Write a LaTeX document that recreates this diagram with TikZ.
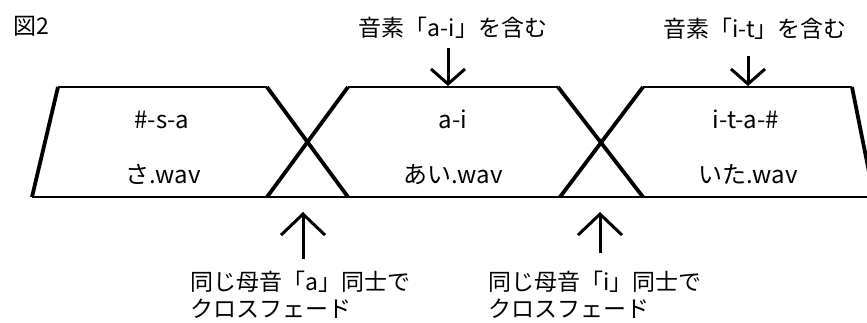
\documentclass[tikz,border=0pt]{standalone}
\usepackage{fontspec}
\setmainfont{Noto Sans CJK JP}
\usetikzlibrary{arrows.meta}
\begin{document}
\begin{tikzpicture}[x=1pt,y=-1pt,
  edge/.style={line width=2.8pt},
  slant/.style={line width=3.8pt},
  lbl/.style={font=\fontsize{23}{27}\selectfont, inner sep=0pt},
  boxlbl/.style={font=\fontsize{24}{28}\selectfont, inner sep=0pt},
  downptr/.style={line width=3pt, -{Straight Barb[length=15pt,width=34pt]}},
  upptr/.style={line width=3pt, -{Straight Barb[length=21pt,width=44pt]}}
]
\useasboundingbox (0,0) rectangle (867,322);
\clip (0,0) rectangle (867,322);
% box corners
\coordinate (b1tl) at (58,87);  \coordinate (b1tr) at (267,87);
\coordinate (b1bl) at (32,197); \coordinate (b1br) at (348,197);
\coordinate (b2tl) at (348,87); \coordinate (b2tr) at (558,87);
\coordinate (b2bl) at (267,197);\coordinate (b2br) at (643,197);
\coordinate (b3tl) at (643,87); \coordinate (b3tr) at (852,87);
\coordinate (b3bl) at (560,197);\coordinate (b3br) at (874,197);
% horizontal lines
\draw[edge] (b1bl) -- (b3br);
\draw[edge] (b1tl) -- (b1tr);
\draw[edge] (b2tl) -- (b2tr);
\draw[edge] (b3tl) -- (b3tr);
% slanted edges
\draw[slant] (b1bl) -- (b1tl);
\draw[slant] (b1tr) -- (b1br);
\draw[slant] (b2bl) -- (b2tl);
\draw[slant] (b2tr) -- (b2br);
\draw[slant] (b3bl) -- (b3tl);
\draw[slant] (b3tr) -- (b3br);
% texts
\node[lbl, anchor=base west] (fig) at (13,34) {図2};
\node[lbl, anchor=base] (t1) at (453,36) {音素「a-i」を含む};
\node[lbl, anchor=base] (t2) at (755,37) {音素「i-t」を含む};
\node[boxlbl, anchor=base] (p1) at (162,128) {\#-s-a};
\node[boxlbl, anchor=base] (f1) at (163,183) {さ.wav};
\node[boxlbl, anchor=base] (p2) at (453,128) {a-i};
\node[boxlbl, anchor=base] (f2) at (453,183) {あい.wav};
\node[boxlbl, anchor=base] (p3) at (746,128) {i-t-a-\#};
\node[boxlbl, anchor=base] (f3) at (748,183) {いた.wav};
\node[lbl, anchor=base west] (c1a) at (190,290) {同じ母音「a」同士で};
\node[lbl, anchor=base west] (c1b) at (190,317) {クロスフェード};
\node[lbl, anchor=base west] (c2a) at (488,290) {同じ母音「i」同士で};
\node[lbl, anchor=base west] (c2b) at (488,317) {クロスフェード};
% arrows
\coordinate (a1s) at (448,48); \coordinate (a1e) at (448,86);
\coordinate (a2s) at (748,56); \coordinate (a2e) at (748,86);
\coordinate (u1s) at (303,259); \coordinate (u1e) at (303,212);
\coordinate (u2s) at (600,253); \coordinate (u2e) at (600,212);
\draw[downptr] (a1s) -- (a1e);
\draw[downptr] (a2s) -- (a2e);
\draw[upptr] (u1s) -- (u1e);
\draw[upptr] (u2s) -- (u2e);
\end{tikzpicture}
\end{document}
